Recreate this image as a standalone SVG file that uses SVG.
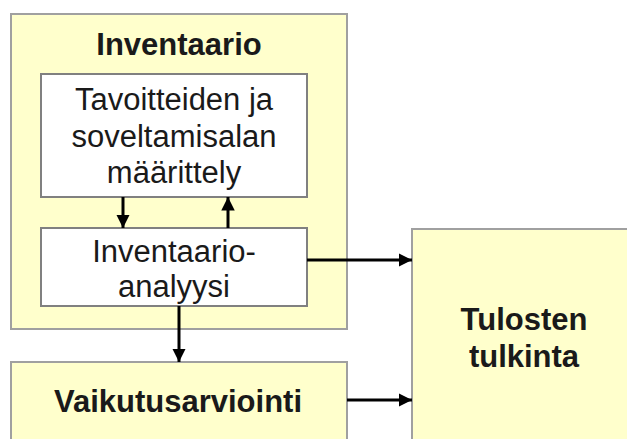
<svg xmlns="http://www.w3.org/2000/svg" width="627" height="439" viewBox="0 0 627 439">
<defs>
<style>
.outer{fill:#FFFFCC;stroke:#A0A0A0;stroke-width:2}
.inner{fill:#FFFFFF;stroke:#808080;stroke-width:2}
.t{font-family:"Liberation Sans",Arial,sans-serif;font-size:31px;fill:#1a1a1a;text-anchor:middle}
.b{font-weight:bold}
.c{stroke:#000;stroke-width:3;fill:none;marker-end:url(#ah)}
</style>
<marker id="ah" viewBox="0 0 10 10" refX="10" refY="5" markerWidth="4.5" markerHeight="4.5" markerUnits="strokeWidth" orient="auto">
<path d="M0,0 L10,5 L0,10 Z" fill="#000"/>
</marker>
</defs>
<rect width="627" height="439" fill="#FFFFFF"/>
<g id="inventaario">
<rect class="outer" x="11" y="14" width="336" height="315"/>
<text class="t b" x="179" y="55">Inventaario</text>
</g>
<g id="tavoitteiden">
<rect class="inner" x="41" y="74" width="266" height="123"/>
<text class="t" x="174" y="110">Tavoitteiden ja</text>
<text class="t" x="174" y="147">soveltamisalan</text>
<text class="t" x="174" y="183">määrittely</text>
</g>
<g id="analyysi">
<rect class="inner" x="41" y="228" width="266" height="78"/>
<text class="t" x="174" y="262">Inventaario-</text>
<text class="t" x="174" y="297">analyysi</text>
</g>
<g id="vaikutusarviointi">
<rect class="outer" x="11" y="362" width="336" height="90"/>
<text class="t b" x="178" y="412">Vaikutusarviointi</text>
</g>
<g id="tulosten">
<rect class="outer" x="412" y="229" width="230" height="230"/>
<text class="t b" x="524" y="330">Tulosten</text>
<text class="t b" x="524" y="367">tulkinta</text>
</g>
<g id="connectors">
<line class="c" x1="123" y1="197" x2="123" y2="228"/>
<line class="c" x1="228" y1="228" x2="228" y2="197"/>
<line class="c" x1="307" y1="260" x2="412" y2="260"/>
<line class="c" x1="179" y1="306" x2="179" y2="362"/>
<line class="c" x1="347" y1="400" x2="412" y2="400"/>
</g>
</svg>
